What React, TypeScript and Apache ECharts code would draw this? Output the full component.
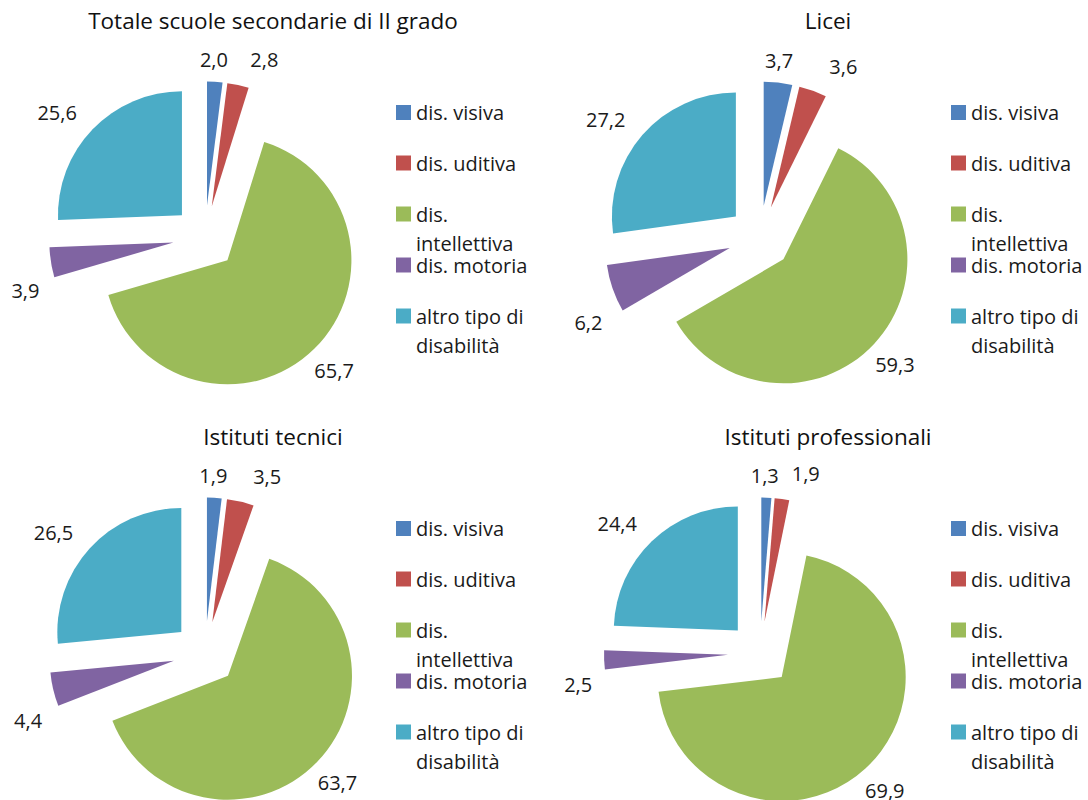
import React, { useEffect, useRef } from 'react';
import * as echarts from 'echarts';

// ---- data ----
const categories = ['dis. visiva', 'dis. uditiva', 'dis. intellettiva', 'dis. motoria', 'altro tipo di disabilità'];
const legendLabels = ['dis. visiva', 'dis. uditiva', 'dis.\nintellettiva', 'dis. motoria', 'altro tipo di\ndisabilità'];
const titles = ['Totale scuole secondarie di II grado', 'Licei', 'Istituti tecnici', 'Istituti professionali'];
const totaleValues = [2.0, 2.8, 65.7, 3.9, 25.6];
const liceiValues = [3.7, 3.6, 59.3, 6.2, 27.2];
const tecniciValues = [1.9, 3.5, 63.7, 4.4, 26.5];
const professionaliValues = [1.3, 1.9, 69.9, 2.5, 24.4];
const panelValues = [totaleValues, liceiValues, tecniciValues, professionaliValues];

// ---- styles / layout ----
const colors = ['#4F81BD', '#C0504D', '#9BBB59', '#8064A2', '#4BACC6'];
const font = "'Open Sans', 'Noto Sans', sans-serif";
const textColor = '#1a1a1a';
const colOffsets = [0, 555];
const rowOffsets = [0, 416];
const pieCenter = [205, 237.5];
const pieRadius = 124;
const explode = 32;
const labelRadius = 187;
// per-category nudge of the value labels (Excel "outside end" placement)
const labelNudge = [
  [-3, 12],
  [19, 8],
  [-4, -3],
  [8, 23],
  [-11, 7],
];
const titleX = 273;
const titleY = 20;
const legendX = 396;
const legendRowY = [112.5, 163, 214, 265, 316];
const lineH = 29;

const fmt = (v: number) => v.toFixed(1).replace('.', ',');

function buildOption() {
  const series: any[] = [];
  const legends: any[] = [];
  const titleOpts: any[] = [];
  panelValues.forEach((vals, p) => {
    const ox = colOffsets[p % 2];
    const oy = rowOffsets[Math.floor(p / 2)];
    const center = [pieCenter[0] + ox, pieCenter[1] + oy];
    series.push({
      type: 'pie',
      name: titles[p],
      center,
      radius: [0, pieRadius],
      startAngle: 90,
      clockwise: true,
      selectedMode: 'multiple',
      selectedOffset: explode,
      avoidLabelOverlap: false,
      label: { show: false },
      labelLine: { show: false },
      emphasis: { disabled: true },
      select: { itemStyle: { borderWidth: 0 } },
      itemStyle: { borderWidth: 0 },
      data: vals.map((v, i) => ({ name: categories[i], value: v, selected: true, itemStyle: { color: colors[i] } })),
    });
    series.push({
      type: 'pie',
      name: titles[p] + ' etichette',
      center,
      radius: [labelRadius - 30, labelRadius + 30],
      startAngle: 90,
      clockwise: true,
      silent: true,
      avoidLabelOverlap: false,
      itemStyle: { color: 'rgba(0,0,0,0)', borderWidth: 0 },
      label: {
        show: true,
        position: 'inside',
        formatter: (pr: any) => fmt(pr.value),
        fontSize: 20,
        fontFamily: font,
        color: textColor,
        textBorderWidth: 0,
      },
      labelLayout: (params: any) => ({
        dx: labelNudge[params.dataIndex][0],
        dy: labelNudge[params.dataIndex][1],
        hideOverlap: false,
      }),
      labelLine: { show: false },
      emphasis: { disabled: true },
      data: vals.map((v, i) => ({ name: categories[i], value: v })),
    });
    titleOpts.push({
      text: titles[p],
      left: titleX + ox,
      top: titleY + oy - 11,
      textAlign: 'center',
      padding: 0,
      textStyle: { fontFamily: font, fontSize: 22.5, fontWeight: 'normal', color: '#111' },
    });
    categories.forEach((c, i) => {
      const lines = legendLabels[i].split('\n').length;
      // leading blank lines keep the first text line level with the marker
      const text = '\n'.repeat(lines - 1) + legendLabels[i];
      legends.push({
        data: [{ name: c, icon: 'rect' }],
        orient: 'vertical',
        left: legendX + ox,
        top: legendRowY[i] + oy - lineH / 2 - (lines - 1) * lineH,
        padding: 0,
        itemWidth: 15,
        itemHeight: 15,
        selectedMode: false,
        formatter: () => text,
        textStyle: {
          fontFamily: font,
          fontSize: 20,
          color: textColor,
          lineHeight: lineH,
        },
      });
    });
  });
  return {
    animation: false,
    backgroundColor: '#ffffff',
    title: titleOpts,
    legend: legends,
    series,
  };
}

export default function App() {
  const ref = useRef<HTMLDivElement>(null);
  useEffect(() => {
    if (!ref.current) return;
    const chart = echarts.init(ref.current, undefined, { renderer: 'svg' });
    chart.setOption(buildOption() as any);
    return () => chart.dispose();
  }, []);
  return (
    <div
      ref={ref}
      style={{ position: 'absolute', left: 0, top: 0, width: 1088, height: 800, background: '#fff' }}
    />
  );
}
